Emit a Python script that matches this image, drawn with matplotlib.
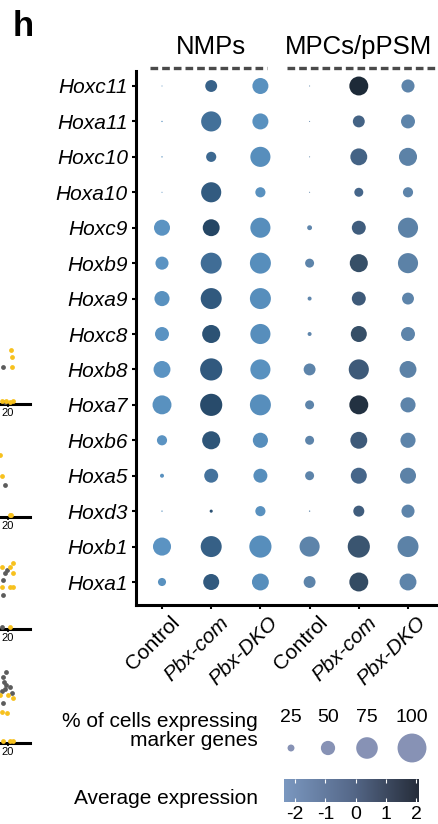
import numpy as np
import matplotlib
matplotlib.use("Agg")
import matplotlib.pyplot as plt
from matplotlib.colors import LinearSegmentedColormap, Normalize
from matplotlib.transforms import ScaledTranslation

plt.rcParams['font.family'] = ['Liberation Sans', 'DejaVu Sans']

# genes from top to bottom
genes = ['Hoxc11', 'Hoxa11', 'Hoxc10', 'Hoxa10', 'Hoxc9', 'Hoxb9', 'Hoxa9', 'Hoxc8',
         'Hoxb8', 'Hoxa7', 'Hoxb6', 'Hoxa5', 'Hoxd3', 'Hoxb1', 'Hoxa1']
conditions = ['Control', 'Pbx-com', 'Pbx-DKO', 'Control', 'Pbx-com', 'Pbx-DKO']
groups = ['NMPs', 'MPCs/pPSM']

# % of cells expressing, same gene order
pct_nmp_control = [5, 6, 6, 5, 56, 46, 53, 49, 59, 66, 36, 15, 6, 63, 29]
pct_nmp_pbxcom = [42, 70, 36, 70, 59, 73, 73, 63, 77, 77, 63, 49, 12, 73, 56]
pct_nmp_pbxdko = [56, 56, 70, 36, 70, 73, 73, 70, 70, 73, 53, 49, 36, 77, 59]
pct_mpc_control = [5, 5, 5, 5, 18, 32, 15, 15, 42, 32, 32, 32, 6, 70, 42]
pct_mpc_pbxcom = [66, 42, 59, 32, 49, 63, 49, 56, 70, 66, 59, 56, 39, 77, 66]
pct_mpc_pbxdko = [46, 49, 63, 36, 70, 70, 42, 49, 59, 53, 53, 56, 46, 73, 59]

# average (scaled) expression, same gene order
expr_nmp_control = [-1.7, -1.6, -1.6, -1.6, -1.7, -1.7, -1.6, -1.7, -1.7, -1.6, -1.7, -1.6, -1.6, -1.7, -1.6]
expr_nmp_pbxcom = [0.3, -0.3, 0.0, 0.6, 1.5, -0.2, 0.7, 1.0, 0.7, 1.3, 0.9, -0.4, 1.0, 0.4, 0.7]
expr_nmp_pbxdko = [-1.6, -1.6, -1.5, -1.6, -1.5, -1.5, -1.5, -1.5, -1.6, -1.5, -1.5, -1.5, -1.6, -1.5, -1.5]
expr_mpc_control = [-1.4, -1.4, -1.4, -1.4, -1.4, -1.3, -1.4, -1.4, -1.3, -1.3, -1.3, -1.3, -1.4, -1.3, -1.3]
expr_mpc_pbxcom = [2.0, 0.3, 0.3, 0.2, 0.5, 1.0, 0.6, 1.0, 0.6, 1.8, 0.6, 0.2, 0.5, 0.8, 1.1]
expr_mpc_pbxdko = [-1.3, -1.3, -1.2, -1.3, -1.2, -1.2, -1.3, -1.3, -1.2, -1.3, -1.3, -1.2, -1.3, -1.2, -1.3]

pct_cols = [pct_nmp_control, pct_nmp_pbxcom, pct_nmp_pbxdko,
            pct_mpc_control, pct_mpc_pbxcom, pct_mpc_pbxdko]
expr_cols = [expr_nmp_control, expr_nmp_pbxcom, expr_nmp_pbxdko,
             expr_mpc_control, expr_mpc_pbxcom, expr_mpc_pbxdko]

size_breaks = [25, 50, 75, 100]
expr_breaks = [-2, -1, 0, 1, 2]
expr_limits = (-2.37, 2.1)

# bits of the neighbouring panel that got cropped in on the left (x in days, y in px above axis)
frag_yellow = [
    ([21.2, 21.5, 21.5, 18.2, 19.5, 20.8, 21.8], [54, 47, 37, 3, 3, 2, 3]),
    ([17.5, 18.2, 20.8, 21.2], [62, 41, 2, 2]),
    ([21.8, 20.8, 18.2, 21.8, 18.2, 20.8, 21.8, 20.8], [66, 62, 62, 56, 42, 42, 42, 2]),
    ([20.2, 21.8, 17.5, 18.2, 19.8, 18.5, 20.8, 21.8], [48, 45, 48, 31, 30, 2, 2, 2]),
]
frag_grey = [
    ([18.5, 19.2], [37, 2]),
    ([19.2], [32]),
    ([19.2, 19.8, 18.5, 18.5, 18.2], [56, 59, 49, 34, 2]),
    ([19.5, 18.5, 18.8, 19.5, 20.8, 21.5, 18.5, 19.2, 18.2], [71, 66, 61, 58, 56, 50, 40, 54, 52]),
]
frag_lines_y = [404, 517, 629, 743]

W, H, DPI = 439, 824, 100


def diam_px(p):
    return 0.293 * np.asarray(p, dtype=float) - 0.4


def size_pt2(p):
    return (diam_px(p) * 72 / DPI) ** 2


nmp_cmap = LinearSegmentedColormap.from_list(
    'nmp', [(0, '#609bcb'), (0.4, '#44729c'), (0.7, '#2f577b'), (1, '#1f3a55')])
mpc_cmap = LinearSegmentedColormap.from_list(
    'mpc', [(0, '#6892b8'), (0.55, '#46668a'), (0.75, '#364f68'), (1, '#1d2a38')])
bar_cmap = LinearSegmentedColormap.from_list('bar', ['#7b98c0', '#56698a', '#262d3a'])
norm = Normalize(-2, 2)

fig = plt.figure(figsize=(W / DPI, H / DPI), dpi=DPI)

# main dot plot
left, top, bottom = 135.5, 71, 605
ax = fig.add_axes([left / W, 1 - bottom / H, (W - left) / W, (bottom - top) / H])
n = len(genes)
ypos = n - np.arange(n)
for j, (p, e) in enumerate(zip(pct_cols, expr_cols)):
    cmap = nmp_cmap if j < 3 else mpc_cmap
    ax.scatter(np.full(n, j + 1), ypos, s=size_pt2(p), c=cmap(norm(np.array(e))),
               linewidths=0, zorder=3)

ax.set_xlim(1 - 26.5 / 49.2, 6 + 31 / 49.2)
ax.set_ylim(1 - 23 / 35.43, n + 15 / 35.43)
for s in ['top', 'right']:
    ax.spines[s].set_visible(False)
for s in ['left', 'bottom']:
    ax.spines[s].set_linewidth(2.2)
ax.tick_params(length=3, width=1.5, color='black')
ax.tick_params(axis='y', pad=2.5)
ax.tick_params(axis='x', pad=2)
ax.set_yticks(ypos)
ax.set_yticklabels(genes, fontsize=15, fontstyle='italic')
ax.set_xticks(np.arange(1, 7))
ax.set_xticklabels(conditions, fontsize=15, rotation=45, ha='right', va='top',
                   rotation_mode='anchor')
shift = ScaledTranslation(8 / DPI, -1 / DPI, fig.dpi_scale_trans)
for lab in ax.get_xticklabels():
    if lab.get_text() != 'Control':
        lab.set_fontstyle('italic')
    lab.set_transform(lab.get_transform() + shift)

# group headers with dashed lines
trans = ax.get_xaxis_transform()
for name, xc, (x0, x1) in zip(groups, [2, 5], [(0.756, 3.14), (3.55, 6.7)]):
    ax.text(xc, 1 + 24 / 534, name, transform=trans, ha='center', va='center',
            fontsize=18.5, clip_on=False)
    ax.plot([x0, x1], [1 + 3 / 534] * 2, transform=trans, color='#4a4a4a', lw=2.4,
            ls=(0, (2.3, 1.2)), clip_on=False, solid_capstyle='butt')

fig.text(13 / W, 1 - 10 / H, 'h', fontsize=25, fontweight='bold', va='top', ha='left')

# size legend
fig.text(258 / W, 1 - 731 / H, '% of cells expressing\nmarker genes', ha='right',
         va='center', multialignment='right', fontsize=15, linespacing=1.0)
ax_size = fig.add_axes([270 / W, 1 - 765 / H, 169 / W, 65 / H])
ax_size.set_xlim(0, 169)
ax_size.set_ylim(0, 65)
ax_size.axis('off')
key_x = [21, 58, 97, 142]
ax_size.scatter(key_x, [17] * 4, s=size_pt2(size_breaks), c='#8792b5', linewidths=0)
for kx, b in zip(key_x, size_breaks):
    ax_size.text(kx, 48, str(b), ha='center', va='center', fontsize=14)

# colour legend
fig.text(258 / W, 1 - 798 / H, 'Average expression', ha='right', va='center', fontsize=15)
ax_cb = fig.add_axes([284 / W, 1 - 802 / H, 135 / W, 23 / H])
grad = np.linspace(expr_limits[0], expr_limits[1], 256)[None, :]
ax_cb.imshow(grad, aspect='auto', cmap=bar_cmap,
             extent=[expr_limits[0], expr_limits[1], 0, 1])
ax_cb.set_xlim(*expr_limits)
ax_cb.set_yticks([])
ax_cb.set_xticks(expr_breaks)
ax_cb.set_xticklabels([str(b) for b in expr_breaks], fontsize=14)
ax_cb.tick_params(axis='x', direction='in', length=3, width=0.8, color='white',
                  labelcolor='black', top=True, pad=3)
for s in ax_cb.spines.values():
    s.set_visible(False)

# cropped neighbouring panel fragments
for (yx, yy), (gx, gy), ly in zip(frag_yellow, frag_grey, frag_lines_y):
    fa = fig.add_axes([0, 1 - ly / H, 30 / W, 80 / H])
    fa.set_xlim(17.5, 27.5)
    fa.set_ylim(0, 80)
    fa.patch.set_visible(False)
    for s in ['top', 'right', 'left']:
        fa.spines[s].set_visible(False)
    fa.spines['bottom'].set_linewidth(2.2)
    fa.set_yticks([])
    fa.set_xticks([20])
    fa.set_xticklabels(['20'], fontsize=8)
    fa.tick_params(axis='x', length=2, width=1.2, pad=1)
    fa.scatter(gx, gy, s=12, c='#5c5c5c', linewidths=0, clip_on=False, zorder=3)
    fa.scatter(yx, yy, s=12, c='#f7c11e', linewidths=0, clip_on=False, zorder=4)

fig.savefig('out.png', dpi=DPI)
